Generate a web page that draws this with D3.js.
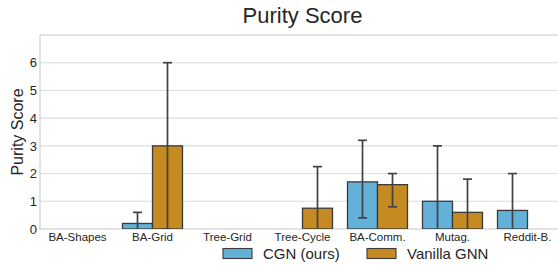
<!DOCTYPE html>
<html>
<head>
<meta charset="utf-8">
<script src="https://cdn.jsdelivr.net/npm/d3@7"></script>
<style>
  body { margin: 0; background: #fff; }
  svg { display: block; font-family: "Liberation Sans", Arial, sans-serif; }
</style>
</head>
<body>
<svg id="chart" width="558" height="265"></svg>
<script>
// data
var categories = ["BA-Shapes", "BA-Grid", "Tree-Grid", "Tree-Cycle", "BA-Comm.", "Mutag.", "Reddit-B."];
var seriesNames = ["CGN (ours)", "Vanilla GNN"];
var cgnMean = [0, 0.2, 0, 0, 1.7, 1.0, 0.67];
var cgnLow = [null, -0.2, null, null, 0.4, -1.0, -0.67];
var cgnHigh = [null, 0.6, null, null, 3.2, 3.0, 2.0];
var vanMean = [0, 3.0, 0, 0.75, 1.6, 0.6, 0];
var vanLow = [null, 0, null, -0.75, 0.8, -0.6, null];
var vanHigh = [null, 6.0, null, 2.25, 2.0, 1.8, null];
var yTicks = [0, 1, 2, 3, 4, 5, 6];

var colors = ["#63b0d9", "#c68a22"];
var textColor = "#262626";

var margin = { left: 40, top: 35, right: 565, bottom: 229 };

var svg = d3.select("#chart");

var x = d3.scaleBand().domain(categories).range([margin.left, margin.right]).padding(0);
var xs = d3.scaleBand().domain(seriesNames)
  .range([x.bandwidth() * 0.1, x.bandwidth() * 0.9]);
var y = d3.scaleLinear().domain([0, 7]).range([margin.bottom, margin.top]);

svg.append("defs").append("clipPath").attr("id", "plotclip")
  .append("rect")
  .attr("x", margin.left).attr("y", margin.top)
  .attr("width", margin.right - margin.left)
  .attr("height", margin.bottom - margin.top);

// grid lines
svg.append("g")
  .selectAll("line")
  .data(yTicks.slice(1))
  .enter().append("line")
  .attr("x1", margin.left).attr("x2", margin.right)
  .attr("y1", d => y(d)).attr("y2", d => y(d))
  .style("stroke", "#dcdcdc")
  .style("stroke-width", "1.1px");

// spines
svg.append("rect")
  .attr("x", margin.left).attr("y", margin.top)
  .attr("width", margin.right - margin.left)
  .attr("height", margin.bottom - margin.top)
  .style("fill", "none")
  .style("stroke", "#cccccc")
  .style("stroke-width", "1.1px");

var rows = [];
categories.forEach(function(c, i) {
  rows.push({ cat: c, s: seriesNames[0], v: cgnMean[i], lo: cgnLow[i], hi: cgnHigh[i], k: 0 });
  rows.push({ cat: c, s: seriesNames[1], v: vanMean[i], lo: vanLow[i], hi: vanHigh[i], k: 1 });
});

var plot = svg.append("g").attr("clip-path", "url(#plotclip)");

plot.selectAll("rect.bar")
  .data(rows)
  .enter().append("rect")
  .attr("class", "bar")
  .attr("x", d => x(d.cat) + xs(d.s))
  .attr("width", xs.bandwidth())
  .attr("y", d => y(d.v))
  .attr("height", d => y(0) - y(d.v))
  .style("fill", d => colors[d.k])
  .style("stroke", "#3a3a3a")
  .style("stroke-width", "1.3px");

// error bars
var errs = rows.filter(d => d.hi !== null);
var cx = d => x(d.cat) + xs(d.s) + xs.bandwidth() / 2;

plot.selectAll("line.err")
  .data(errs)
  .enter().append("line")
  .attr("x1", cx).attr("x2", cx)
  .attr("y1", d => y(d.lo)).attr("y2", d => y(d.hi))
  .style("stroke", "#424242")
  .style("stroke-width", "1.7px");

[["hi"], ["lo"]].forEach(function(end) {
  plot.selectAll("line.cap" + end[0])
    .data(errs)
    .enter().append("line")
    .attr("x1", d => cx(d) - 4.5).attr("x2", d => cx(d) + 4.5)
    .attr("y1", d => y(d[end[0]])).attr("y2", d => y(d[end[0]]))
    .style("stroke", "#424242")
    .style("stroke-width", "1.7px");
});

// y ticks
svg.append("g")
  .selectAll("text")
  .data(yTicks)
  .enter().append("text")
  .attr("x", 37)
  .attr("y", d => y(d))
  .attr("dy", "0.36em")
  .attr("text-anchor", "end")
  .style("font-size", "13px")
  .style("fill", textColor)
  .text(d => d);

// x ticks
svg.append("g")
  .selectAll("text")
  .data(categories)
  .enter().append("text")
  .attr("x", d => x(d) + x.bandwidth() / 2)
  .attr("y", 240.5)
  .attr("text-anchor", "middle")
  .style("font-size", "11.5px")
  .style("fill", textColor)
  .text(d => d);

// y label
svg.append("text")
  .attr("transform", "translate(23," + ((margin.top + margin.bottom) / 2) + ") rotate(-90)")
  .attr("text-anchor", "middle")
  .style("font-size", "16px")
  .style("fill", textColor)
  .text("Purity Score");

// title
svg.append("text")
  .attr("x", (margin.left + margin.right) / 2)
  .attr("y", 22.5)
  .attr("text-anchor", "middle")
  .style("font-size", "22px")
  .style("fill", textColor)
  .text("Purity Score");

// legend
var legendX = [223, 367];
var leg = svg.append("g").selectAll("g")
  .data(seriesNames)
  .enter().append("g")
  .attr("transform", (d, i) => "translate(" + legendX[i] + ",248.5)");

leg.append("rect")
  .attr("width", 29).attr("height", 10)
  .style("fill", (d, i) => colors[i])
  .style("stroke", "#3a3a3a")
  .style("stroke-width", "1.1px");

leg.append("text")
  .attr("x", 40)
  .attr("y", 5)
  .attr("dy", "0.36em")
  .style("font-size", "15px")
  .style("fill", textColor)
  .text(d => d);
</script>
</body>
</html>
